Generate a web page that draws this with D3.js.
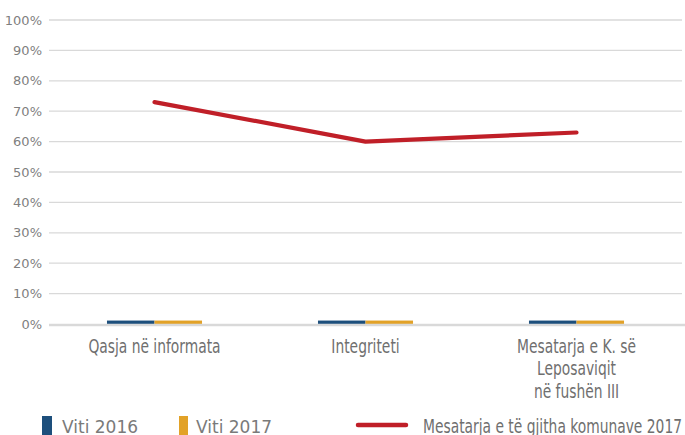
<!DOCTYPE html>
<html>
<head>
<meta charset="utf-8">
<script src="https://cdn.jsdelivr.net/npm/d3@7"></script>
<style>
  body { margin: 0; background: #fff; }
  .cond { font-family: "DejaVu Sans Condensed", "DejaVu Sans", sans-serif; }
</style>
</head>
<body>
<svg id="chart"></svg>
<script>
// Data
const categories = ["Qasja në informata", "Integriteti", "Mesatarja e K. së\nLeposaviqit\nnë fushën III"];
const viti2016 = [0.008, 0.008, 0.008];
const viti2017 = [0.008, 0.008, 0.008];
const mesatarja = [0.73, 0.60, 0.63];
const yTicks = [0, 0.1, 0.2, 0.3, 0.4, 0.5, 0.6, 0.7, 0.8, 0.9, 1.0];

const width = 685, height = 435;
const margin = { top: 20, right: 3, bottom: 111, left: 49 };
const innerW = width - margin.left - margin.right;
const innerH = height - margin.top - margin.bottom;
const squeeze = 0.77; // narrow look of the original condensed font

const svg = d3.select('#chart')
    .attr('width', width)
    .attr('height', height);

const chart = svg.append('g')
    .attr('transform', `translate(${margin.left},${margin.top})`);

const xScale = d3.scaleBand()
    .domain(categories)
    .range([0, innerW]);

const xSub = d3.scaleBand()
    .domain(['2016', '2017'])
    .range([0, xScale.bandwidth()])
    .paddingInner(0)
    .paddingOuter(1.22);

const yScale = d3.scaleLinear()
    .domain([0, 1])
    .range([innerH, 0]);

// Gridlines
chart.append('g')
    .selectAll('line')
    .data(yTicks.filter(d => d > 0))
    .join('line')
    .attr('x1', 0)
    .attr('x2', innerW)
    .attr('y1', d => yScale(d))
    .attr('y2', d => yScale(d))
    .attr('stroke', '#d9d9d9')
    .attr('stroke-width', 1.3);

// Y axis labels
const yAxis = d3.axisLeft(yScale)
    .tickValues(yTicks)
    .tickFormat(d3.format('.0%'))
    .tickSize(0)
    .tickPadding(7);

chart.append('g')
    .call(yAxis)
    .call(g => g.select('.domain').remove())
    .call(g => g.selectAll('text')
        .attr('fill', '#7f7f7f')
        .style('font-family', 'Tahoma, "DejaVu Sans", sans-serif')
        .style('font-size', '13px'));

// Bars
const groups = chart.append('g')
    .selectAll('g')
    .data(categories.map((c, i) => ({ c, v: [['2016', viti2016[i]], ['2017', viti2017[i]]] })))
    .join('g')
    .attr('transform', d => `translate(${xScale(d.c)},0)`);

groups.selectAll('rect')
    .data(d => d.v)
    .join('rect')
    .attr('x', d => xSub(d[0]))
    .attr('width', xSub.bandwidth())
    .attr('y', d => yScale(d[1]) - 1)
    .attr('height', d => innerH - yScale(d[1]) + 1)
    .attr('fill', d => d[0] === '2016' ? '#1d4f7c' : '#e2a228');

// Baseline
chart.append('line')
    .attr('x1', 0)
    .attr('x2', innerW + margin.right)
    .attr('y1', innerH + 1)
    .attr('y2', innerH + 1)
    .attr('stroke', '#d9d9d9')
    .attr('stroke-width', 2.5);

// X labels
const xLabels = chart.append('g')
    .selectAll('text')
    .data(categories)
    .join('text')
    .attr('class', 'cond')
    .attr('text-anchor', 'middle')
    .attr('transform', d => `translate(${xScale(d) + xScale.bandwidth() / 2},${innerH + 29}) scale(${squeeze},1)`)
    .attr('fill', '#6f6f6f')
    .style('font-size', '20px');

xLabels.selectAll('tspan')
    .data(d => d.split('\n'))
    .join('tspan')
    .attr('x', 0)
    .attr('dy', (d, i) => i === 0 ? 0 : 22.5)
    .text(d => d);

// Line
const line = d3.line()
    .x((d, i) => xScale(categories[i]) + xScale.bandwidth() / 2)
    .y(d => yScale(d));

chart.append('path')
    .datum(mesatarja)
    .attr('d', line)
    .attr('fill', 'none')
    .attr('stroke', '#c01f28')
    .attr('stroke-width', 4.2)
    .attr('stroke-linecap', 'round')
    .attr('stroke-linejoin', 'round');

// Legend
const legend = svg.append('g');

legend.append('rect').attr('x', 42).attr('y', 416).attr('width', 10).attr('height', 19).attr('fill', '#1d4f7c');
legend.append('text').attr('x', 62).attr('y', 433).text('Viti 2016')
    .attr('fill', '#7a7a7a')
    .style('font-family', '"DejaVu Sans", sans-serif').style('font-size', '17px');

legend.append('rect').attr('x', 179).attr('y', 416).attr('width', 9).attr('height', 19).attr('fill', '#e2a228');
legend.append('text').attr('x', 196).attr('y', 433).text('Viti 2017')
    .attr('fill', '#7a7a7a')
    .style('font-family', '"DejaVu Sans", sans-serif').style('font-size', '17px');

legend.append('line').attr('x1', 358).attr('x2', 406).attr('y1', 425).attr('y2', 425)
    .attr('stroke', '#c01f28').attr('stroke-width', 4.5).attr('stroke-linecap', 'round');
legend.append('text').attr('class', 'cond')
    .attr('transform', `translate(423,433) scale(${squeeze},1)`)
    .text('Mesatarja e të gjitha komunave 2017')
    .attr('fill', '#6f6f6f')
    .style('font-size', '20px');
</script>
</body>
</html>
